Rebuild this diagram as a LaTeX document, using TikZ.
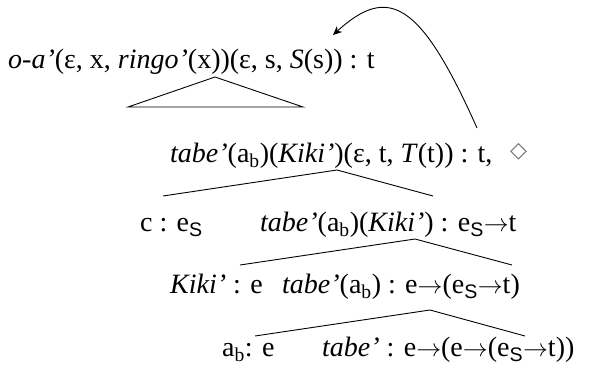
\documentclass[tikz,border=0pt]{standalone}
\usepackage{fontspec}
\setmainfont{Liberation Serif}
\setsansfont{Liberation Sans}
\newfontfamily\symfont{DejaVu Sans}
\usetikzlibrary{arrows.meta}
\newcommand{\sbb}{\textsubscript{b}}
\newcommand{\sbS}{\textsubscript{\sffamily S}}
\newcommand{\ar}{\ensuremath{\mathord{\rightarrow}}}
\tikzset{
  lab/.style={anchor=base west, inner sep=0pt, font=\fontsize{28}{30}\selectfont},
  br/.style={line width=0.9pt},
  arr/.style={line width=0.9pt, -{Stealth[length=9pt,width=8pt]}}
}
\begin{document}
\begin{tikzpicture}[x=1pt,y=-1pt]
\useasboundingbox (0,0) rectangle (589,367);
% labels
\node[lab] (n1) at (8,68) {\textit{o-a’}(ε, x, \textit{ringo’}(x))(ε, s, \textit{S}(s)) : t};
\node[lab] (n2) at (170,162) {\textit{tabe’}(a\sbb)(\textit{Kiki’})(ε, t, \textit{T}(t)) : t,};
\node[anchor=base west, inner sep=0pt, text=black!55, font=\symfont\fontsize{22}{24}\selectfont] (dia) at (510,157) {◇};
\node[lab] (n3a) at (140,231) {c : e\sbS};
\node[lab] (n3b) at (260,231) {\textit{tabe’}(a\sbb)(\textit{Kiki’}) : e\sbS\ar t};
\node[lab] (n4a) at (170,293) {\textit{Kiki’} : e};
\node[lab] (n4b) at (282,293) {\textit{tabe’}(a\sbb) : e\ar(e\sbS\ar t)};
\node[lab] (n5a) at (222,356) {a\sbb : e};
\node[lab] (n5b) at (322,356) {\textit{tabe’} : e\ar(e\ar(e\sbS\ar t))};
% tree coordinates
\coordinate (t1) at (215,77);
\coordinate (t1l) at (128,107);
\coordinate (t1r) at (303,107);
\coordinate (b2) at (337,170);
\coordinate (b2l) at (163,196);
\coordinate (b2r) at (433,196);
\coordinate (b3) at (415,239);
\coordinate (b3l) at (240,265);
\coordinate (b3r) at (512,265);
\coordinate (b4) at (430,310);
\coordinate (b4l) at (255,336);
\coordinate (b4r) at (525,336);
\coordinate (arrS) at (477,128);
\coordinate (arrE) at (333,35);
% branches
\draw[br] (t1l) -- (t1) -- (t1r) -- cycle;
\draw[br] (b2l) -- (b2) -- (b2r);
\draw[br] (b3l) -- (b3) -- (b3r);
\draw[br] (b4l) -- (b4) -- (b4r);
% movement arrow
\draw[arr] (arrS) .. controls (420,0) and (388,-15) .. (arrE);
\end{tikzpicture}
\end{document}
